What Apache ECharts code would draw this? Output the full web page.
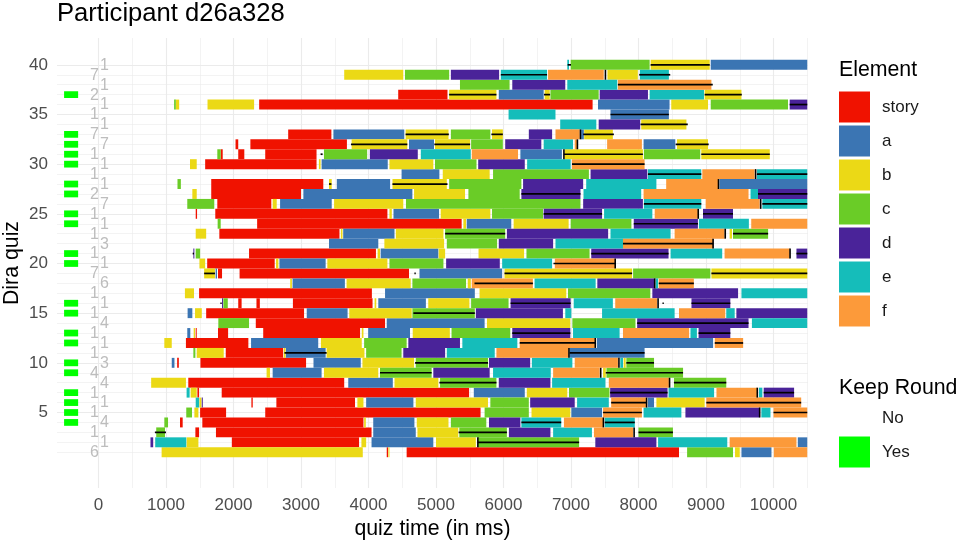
<!DOCTYPE html>
<html><head><meta charset="utf-8">
<script src="https://cdn.jsdelivr.net/npm/echarts@6/dist/echarts.min.js"></script>
<style>html,body{margin:0;padding:0;background:#fff}#chart{width:957px;height:546px}</style>
</head><body><div id="chart"></div>
<script>
// ---------- data ----------
const elementNames = ['story','a','b','c','d','e','f'];
const elementColors = ['#F01200','#3B75B3','#EBD916','#6ACC27','#4A2399','#15BDBA','#FC9A3A'];

// [row, start ms, end ms]
const story = [[37,4440,5170],[36,2380,7320],[33,2810,3450],[32,2030,2070],[32,2250,3680],[31,1810,1840],[31,2070,2160],[31,2470,3230],
[30,1580,3230],[28,1670,3330],[27,1670,3000],[26,1760,2560],[25,1440,1460],[25,1730,4280],[24,2350,5380],[23,1790,3570],[21,2230,4110],
[20,1610,2610],[19,1770,1830],[19,2090,4600],[17,1490,4050],[16,2070,2120],[16,2340,2390],[16,2880,4060],[15,1595,3045],[14,2330,4245],
[13,1440,1455],[13,1770,1920],[13,2440,3875],[12,1295,2220],[11,1885,2735],[10,1165,1190],[10,1510,3075],[8,1330,3640],[7,1465,1490],
[7,1825,5490],[6,2265,2285],[6,2635,3800],[5,1505,1890],[5,2470,5660],[4,1207,1247],[4,1538,3925],[3,1435,1490],[3,1740,4045],
[2,1975,3860],[1,4270,4290],[1,4565,8600]];
const elemA = [[40,9070,10500],[37,5930,6595],[36,7400,8460],[35,7585,8450],[33,3480,4530],[33,7150,7190],[32,4600,4970],[32,8075,8545],
[31,6250,6865],[30,3305,4285],[29,4490,5050],[28,3530,4320],[28,9200,10500],[27,3035,4650],[26,2690,3455],[25,4370,5045],[24,5455,6115],
[23,3625,4385],[22,3415,4145],[21,4180,5035],[20,2680,3365],[19,1735,1755],[19,4755,5980],[18,2875,3650],[17,4245,5575],[16,4145,4850],
[15,1320,1390],[15,3085,3690],[14,4270,5720],[13,1315,1360],[13,3995,4615],[12,2260,3255],[12,7385,9105],[11,2775,3365],[11,6980,8090],
[10,1085,1125],[10,3185,3885],[9,2580,3305],[8,3700,4360],[7,5560,6315],[6,3965,4665],[6,8140,8230],[5,7005,7460],[4,4070,4680],
[3,4070,4700],[2,4045,4960],[2,10360,10500],[1,9525,9970]];
const elemB = [[40,8180,9055],[39,3640,4515],[39,7540,7990],[37,5195,5895],[37,6610,6685],[37,8980,9525],[36,1145,1195],[36,1615,2305],
[36,8485,9030],[34,8040,8710],[33,4550,5185],[33,5830,5990],[33,7195,7620],[32,3750,4575],[32,4985,5505],[32,8570,9030],[31,6905,8065],
[31,8930,9945],[30,1355,1455],[30,3265,3290],[30,4310,4960],[29,5100,5795],[28,3415,3455],[28,4355,5160],[27,1390,1455],[27,4675,5430],
[26,2580,2640],[26,3490,4515],[25,4310,4345],[25,5070,5805],[24,5405,5445],[24,6150,6965],[23,1440,1595],[23,3590,3615],[23,4405,5110],
[23,9350,9385],[22,4235,5120],[21,4135,4170],[21,5040,5135],[21,5630,6305],[20,1495,1580],[20,2630,2665],[20,3390,4280],[19,1565,1725],
[19,6015,7905],[19,9080,10500],[18,2840,2865],[18,3675,4625],[18,5470,5515],[17,1280,1415],[17,5645,6930],[16,4090,4115],[16,4885,5495],
[15,1430,1530],[15,3715,4640],[14,5755,6990],[13,1410,1430],[13,3900,3925],[13,4655,5205],[12,975,1085],[12,3295,3900],[11,1455,1855],
[11,2745,2770],[11,3380,3940],[10,3910,4675],[10,7780,7810],[9,2490,2540],[9,3340,4145],[9,7475,7515],[8,780,1295],[8,4385,5035],
[7,1365,1455],[7,6345,6945],[6,1495,1525],[6,3835,3925],[6,4700,5770],[6,8265,8980],[5,1420,1480],[5,6415,6990],[4,3935,3960],
[4,4715,5185],[3,4725,5330],[2,1305,1480],[2,3895,3965],[2,5000,5590],[1,935,3915],[1,4295,4310],[1,9430,9500]];
const elemC = [[40,6995,8165],[39,4540,5195],[38,5355,6090],[37,6695,7410],[36,1120,1145],[36,9070,10215],[33,5220,5805],[32,5520,5990],
[31,1760,1810],[31,3340,3980],[31,8080,8915],[30,4985,5600],[29,5845,7265],[28,1170,1220],[28,5195,6265],[27,5480,6240],[26,1315,1715],
[26,4555,7140],[25,5830,6585],[24,1765,1810],[24,6995,7895],[23,5135,6025],[23,9400,9920],[22,5160,5905],[21,1440,1505],[21,6340,7275],
[20,4310,5110],[19,7920,9065],[18,4650,5445],[17,6955,8175],[16,1850,1915],[16,5520,6075],[15,4650,5575],[14,1775,2230],[14,7020,7955],
[13,5230,6100],[12,3935,4565],[11,1405,1435],[11,3965,4490],[10,4700,5770],[10,7820,8230],[9,4170,4935],[9,7525,8660],[8,5060,5895],
[8,8525,9300],[7,6970,7570],[6,5805,6375],[5,1300,1385],[5,5720,6375],[4,975,1030],[4,5220,5745],[3,855,985],[3,5345,6050],[3,8000,8510],
[2,5620,7120],[1,8720,9400]];
const elemD = [[39,5220,5935],[38,6130,6915],[37,7425,8140],[36,10240,10500],[34,7410,8025],[33,6375,6720],[32,6025,6560],[31,4020,4730],
[30,5625,6315],[29,7290,8130],[28,6290,7180],[27,6265,7140],[27,9770,10500],[26,7180,8065],[25,6595,7460],[25,8955,9400],[24,7930,8880],
[23,6050,7550],[22,5930,6735],[21,1405,1420],[21,7300,8445],[21,10340,10500],[20,5150,5945],[18,7390,8240],[17,8205,9475],[16,1830,1845],
[16,6105,6995],[16,8785,9360],[15,5590,6880],[15,9450,10500],[14,7980,9630],[13,6130,6990],[13,8890,9360],[12,4590,5355],[11,4515,5135],
[10,5785,6395],[9,4960,5795],[8,5930,6695],[7,7580,8430],[7,9855,10305],[6,1530,1545],[6,6395,7055],[5,8695,9795],[4,5785,6250],
[3,6080,6695],[2,770,810],[2,7360,8265]];
const elemE = [[40,6945,6970],[39,5960,6645],[39,8020,8450],[38,6945,7685],[37,8165,8970],[35,6075,6770],[34,6840,7375],[32,6595,7030],
[31,4775,5515],[30,6350,6995],[29,8140,8930],[29,9755,10500],[28,7225,8265],[27,7185,8040],[27,9660,9770],[26,8080,8930],[26,9835,10500],
[25,7490,8205],[24,8895,9635],[23,7585,8475],[22,6770,7770],[21,8475,9240],[20,5980,6720],[18,6460,7365],[18,8255,8290],[17,9525,10500],
[16,7040,7620],[15,6915,7005],[15,7460,8535],[15,9300,9425],[14,9680,10500],[13,7030,7720],[13,8770,8865],[12,5390,6205],[11,5160,5870],
[10,6420,7020],[10,7730,7770],[9,5845,6700],[8,6720,7510],[7,1305,1350],[7,8445,9120],[7,9785,9835],[6,1440,1490],[6,7090,7560],
[5,8075,8635],[5,9820,9955],[4,6265,6855],[4,7500,7945],[3,6735,7310],[2,840,1300],[2,8290,9315]];
const elemF = [[39,6660,7485],[38,7695,9080],[33,6770,7130],[32,7055,7095],[32,7535,8050],[31,5530,6215],[30,7015,8090],[29,8945,9720],
[28,8410,9180],[27,8075,9630],[26,8995,9795],[25,8240,8880],[24,9670,10500],[23,8535,9275],[22,7770,9105],[21,9275,10240],[20,6760,7655],
[18,5530,6435],[18,8300,8820],[16,7655,8275],[15,8600,9285],[13,7770,8750],[12,6240,7360],[12,9130,9550],[11,5895,6965],[10,7055,7695],
[9,6735,7425],[8,7560,8450],[7,9155,9760],[6,7595,8115],[6,9005,10410],[5,7475,8050],[5,10000,10500],[4,6895,7475],[3,7340,7920],
[2,9350,10340],[1,10005,10500]];

// black horizontal marks [row, start, end]
const blackLines = [[40,6950,7000],[40,8180,9055],[39,5960,6645],[39,8010,8470],[38,7695,9100],[37,5195,5895],[37,6600,6690],[37,8980,9530],
[36,10240,10500],[35,7585,8450],[34,8030,8730],[33,4550,5190],[33,5820,5990],[33,7180,7635],[32,3740,4575],[32,4975,5505],[32,8550,9040],
[31,3290,3320],[31,6895,8065],[31,8930,9945],[30,7015,8090],[29,8140,8930],[29,9755,10500],[28,3415,3450],[28,4355,5170],[27,6265,7140],
[27,9770,10500],[26,8080,8930],[26,9835,10500],[25,6595,7460],[25,8955,9400],[24,7930,8880],[23,5135,6025],[23,9400,9920],[22,7770,9105],
[21,1395,1415],[21,7300,8445],[21,10340,10500],[20,6740,7655],[19,1565,1725],[19,4680,4700],[19,6015,7905],[19,9080,10500],[18,5570,6435],
[18,8300,8820],[16,1805,1825],[16,6105,6995],[16,8355,8375],[16,8785,9360],[15,4665,5575],[14,7980,9630],[13,6130,6990],[13,8890,9360],
[12,6240,7360],[12,9130,9550],[11,2755,3380],[11,6980,8090],[10,4690,5770],[10,7820,8230],[9,4170,4935],[9,7515,8660],[8,5050,5895],
[8,8525,9300],[7,7580,8430],[7,9855,10305],[6,7595,8115],[6,9005,10410],[5,7475,8050],[5,10000,10500],[4,6265,6855],[4,7500,7945],
[3,835,1000],[3,5335,6050],[3,8000,8510],[2,5620,7120]];
// black vertical marks [row, ms]
const blackTicks = [[39,7510],[33,7140],[32,7095],[31,6895],[29,9735],[28,9185],[26,9810],[25,8885],[23,9285],[22,9105],[21,10245],
[20,7655],[18,8240],[16,8290],[12,7360],[11,6970],[10,7710],[9,7440],[8,8460],[7,9760],[6,8120],[5,9795],[4,7480],[3,7935],[2,5620]];

const keepRoundRows = [4,5,6,7,9,10,12,13,15,16,20,21,24,25,27,28,30,31,32,33,37];
// labels for rows 1..40
const rowLabels = ['6','1','1','4','1','1','1','4','4','3','1','1','1','4','1','1','1','6','7','1',
                   '1','3','1','1','1','7','2','1','1','1','1','7','7','1','1','1','2','1','7','1'];

const xLabelTicks = [0,1000,2000,3000,4000,5000,6000,7000,8000,9000,10000];
const xMinorTicks = [500,1500,2500,3500,4500,5500,6500,7500,8500,9500,10500];
const yLabelTicks = [5,10,15,20,25,30,35,40];
const yMinorTicks = [1,2,3,4,6,7,8,9,11,12,13,14,16,17,18,19,21,22,23,24,26,27,28,29,31,32,33,34,36,37,38,39];

// ---------- chart ----------
const FONT = "'Liberation Sans', Arial, Helvetica, sans-serif";
const GRID = '#EBEBEB';
const X_MIN = -615, X_MAX = 10511, Y_MIN = -2.6, Y_MAX = 42.7;
const KEEP_X0 = -510, KEEP_X1 = -302, KEEP_H = 0.34;

function barItem(params, api) {
  const row = api.value(0);
  const p0 = api.coord([api.value(1), row + 0.5]);
  const p1 = api.coord([api.value(2), row - 0.5]);
  return {type:'rect', shape:{x:p0[0], y:p0[1], width:p1[0]-p0[0], height:p1[1]-p0[1]},
          style:{fill: api.visual('color')}};
}
function lineItem(params, api) {
  const row = api.value(0);
  const a = api.coord([api.value(1), row]), b = api.coord([api.value(2), row]);
  return {type:'line', shape:{x1:a[0], y1:a[1], x2:b[0], y2:b[1]}, style:{stroke:'#000', lineWidth:1.7}};
}
function tickItem(params, api) {
  const row = api.value(0);
  const a = api.coord([api.value(1), row + 0.5]), b = api.coord([api.value(1), row - 0.5]);
  return {type:'line', shape:{x1:a[0], y1:a[1], x2:b[0], y2:b[1]}, style:{stroke:'#000', lineWidth:1.6}};
}
function keepItem(params, api) {
  const row = api.value(1);
  const p0 = api.coord([KEEP_X0, row + KEEP_H]);
  const p1 = api.coord([KEEP_X1, row - KEEP_H]);
  return {type:'rect', shape:{x:p0[0], y:p0[1], width:p1[0]-p0[0], height:p1[1]-p0[1]},
          style:{fill: api.visual('color')}};
}
function labelItem(params, api) {
  const row = api.value(1);
  const p = api.coord([api.value(0), row]);
  const even = row % 2 === 0;
  return {type:'text', x: p[0] + (even ? 1.5 : 0.5), y: p[1] + 0.5,
          style:{text: rowLabels[params.dataIndex], fill:'#BDBDBD', fontSize:16, fontFamily:FONT,
                 align: even ? 'left' : 'right', verticalAlign:'middle'}};
}

const elementData = [story, elemA, elemB, elemC, elemD, elemE, elemF];
const series = elementNames.map((name, i) => ({
  type:'custom', name, renderItem: barItem, silent:true, z:2,
  itemStyle:{color: elementColors[i]}, encode:{x:[1,2], y:0}, data: elementData[i]
}));
series.push({type:'custom', name:'marks', renderItem: lineItem, silent:true, z:3, encode:{x:[1,2], y:0}, data: blackLines});
series.push({type:'custom', name:'ticks', renderItem: tickItem, silent:true, z:3, encode:{x:1, y:0}, data: blackTicks});
series.push({type:'custom', name:'Yes', renderItem: keepItem, silent:true, z:2, itemStyle:{color:'#00FF00'},
  encode:{x:0, y:1}, data: keepRoundRows.map(r => [0, r])});
series.push({type:'custom', name:'No', renderItem: keepItem, silent:true, z:2, itemStyle:{color:'#FFFFFF'},
  encode:{x:0, y:1}, data: []});
series.push({type:'custom', name:'rowLabels', renderItem: labelItem, silent:true, z:4,
  encode:{x:0, y:1}, data: rowLabels.map((t, i) => [0, i + 1])});

const plainNumber = v => String(v);
const legendText = {fontSize:17, fontFamily:FONT, color:'#1A1A1A', padding:[0,0,0,7]};
const option = {
  animation:false,
  backgroundColor:'#FFFFFF',
  grid:{left:57, right:149, top:38, bottom:58, containLabel:false},
  xAxis:[{
    type:'value', min:X_MIN, max:X_MAX,
    axisLine:{show:false},
    axisTick:{show:false, customValues: xLabelTicks},
    axisLabel:{customValues: xLabelTicks, formatter: plainNumber, fontSize:17, fontFamily:FONT, color:'#4D4D4D', margin:9},
    splitLine:{show:true, lineStyle:{color:GRID, width:1.1}}
  },{
    type:'value', min:X_MIN, max:X_MAX, position:'top',
    axisLine:{show:false}, axisLabel:{show:false},
    axisTick:{show:false, customValues: xMinorTicks},
    splitLine:{show:true, lineStyle:{color:GRID, width:0.6}}
  }],
  yAxis:[{
    type:'value', min:Y_MIN, max:Y_MAX,
    axisLine:{show:false},
    axisTick:{show:false, customValues: yLabelTicks},
    axisLabel:{customValues: yLabelTicks, formatter: plainNumber, fontSize:17, fontFamily:FONT, color:'#4D4D4D', margin:9},
    splitLine:{show:true, lineStyle:{color:GRID, width:1.1}}
  },{
    type:'value', min:Y_MIN, max:Y_MAX, position:'right',
    axisLine:{show:false}, axisLabel:{show:false},
    axisTick:{show:false, customValues: yMinorTicks},
    splitLine:{show:true, lineStyle:{color:GRID, width:0.6}}
  }],
  legend:[{
    data: elementNames, orient:'vertical', left:839, top:91.5, padding:0,
    itemWidth:31, itemHeight:31, itemGap:3, icon:'rect', selectedMode:false, textStyle: legendText
  },{
    data:['No','Yes'], orient:'vertical', left:839, top:402.5, padding:0,
    itemWidth:31, itemHeight:31, itemGap:3, icon:'rect', selectedMode:false, textStyle: legendText
  }],
  graphic:[
    {type:'text', x:57, y:14, style:{text:'Participant d26a328', fontSize:25.6, fontFamily:FONT, fill:'#000', align:'left', verticalAlign:'middle'}},
    {type:'text', x:839, y:70, style:{text:'Element', fontSize:21.3, fontFamily:FONT, fill:'#000', align:'left', verticalAlign:'middle'}},
    {type:'text', x:839, y:388, style:{text:'Keep Round', fontSize:21.3, fontFamily:FONT, fill:'#000', align:'left', verticalAlign:'middle'}},
    {type:'text', x:432.5, y:529, style:{text:'quiz time (in ms)', fontSize:21.3, fontFamily:FONT, fill:'#000', align:'center', verticalAlign:'middle'}},
    {type:'text', x:12, y:263, rotation:Math.PI/2, style:{text:'Dira quiz', fontSize:21.3, fontFamily:FONT, fill:'#000', align:'center', verticalAlign:'middle'}}
  ],
  series
};
const chart = echarts.init(document.getElementById('chart'));
chart.setOption(option);
</script>
</body></html>
